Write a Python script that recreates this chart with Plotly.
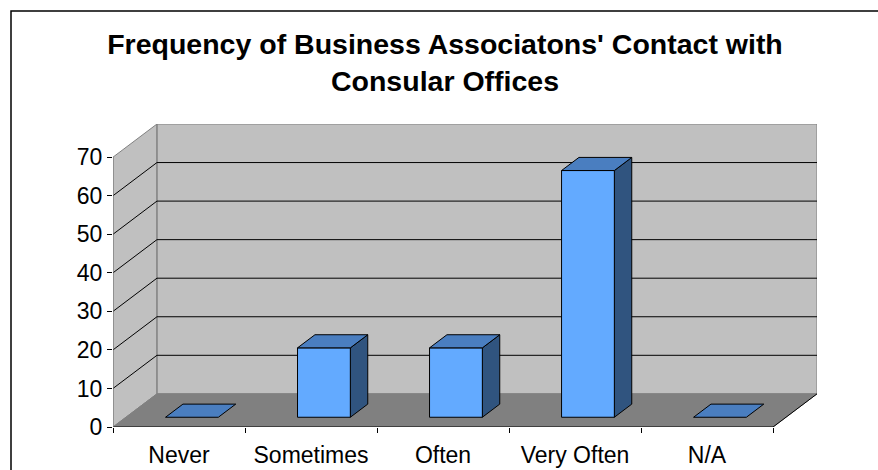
import plotly.graph_objects as go

# ---- data ----
categories = ["Never", "Sometimes", "Often", "Very Often", "N/A"]
values = [0, 18, 18, 64, 0]
y_ticks = [0, 10, 20, 30, 40, 50, 60, 70]
title_text = "Frequency of Business Associatons' Contact with<br>Consular Offices"

# ---- 3D oblique projection parameters (in data units) ----
DX = 0.333   # depth offset along x (category units)
DY = 8.6     # depth offset along y (value units)
YMAX = 70
BAR_HALF = 0.2
Z0, Z1 = 0.294, 0.69   # bar depth position (fraction of floor depth)

x_lo, x_hi = -0.5, len(categories) - 0.5

fig = go.Figure()

def poly_trace(polys, fill, line_color, width=1):
    xs, ys = [], []
    for p in polys:
        for (a, b) in p + [p[0]]:
            xs.append(a); ys.append(b)
        xs.append(None); ys.append(None)
    return go.Scatter(x=xs, y=ys, mode="lines", fill="toself", fillcolor=fill,
                      line=dict(color=line_color, width=width), hoverinfo="skip",
                      showlegend=False)

def line_trace(segs, color, width=1):
    xs, ys = [], []
    for s in segs:
        for (a, b) in s:
            xs.append(a); ys.append(b)
        xs.append(None); ys.append(None)
    return go.Scatter(x=xs, y=ys, mode="lines", line=dict(color=color, width=width),
                      hoverinfo="skip", showlegend=False)

# walls
back_wall = [(x_lo + DX, DY), (x_hi + DX, DY), (x_hi + DX, YMAX + DY), (x_lo + DX, YMAX + DY)]
side_wall = [(x_lo, 0), (x_lo + DX, DY), (x_lo + DX, YMAX + DY), (x_lo, YMAX)]
floor = [(x_lo, 0), (x_hi, 0), (x_hi + DX, DY), (x_lo + DX, DY)]
fig.add_trace(poly_trace([back_wall, side_wall], "#C0C0C0", "#808080"))
fig.add_trace(poly_trace([floor], "#808080", "#808080"))

# gridlines
grid = [[(x_lo, v), (x_lo + DX, v + DY), (x_hi + DX, v + DY)] for v in y_ticks if 0 < v < YMAX]
fig.add_trace(line_trace(grid, "#000000", 1))

# floor front & right edges, front y axis line
fig.add_trace(line_trace([[(x_lo, 0), (x_hi, 0), (x_hi + DX, DY)]], "#000000", 1))
fig.add_trace(line_trace([[(x_lo, 0), (x_lo, YMAX)]], "#808080", 1))

# bars
fronts, tops, sides = [], [], []
for i, v in enumerate(values):
    xl = i - BAR_HALF + Z0 * DX
    xr = i + BAR_HALF + Z0 * DX
    yb = Z0 * DY
    yt = v + Z0 * DY
    ddx = (Z1 - Z0) * DX
    ddy = (Z1 - Z0) * DY
    if v > 0:
        fronts.append([(xl, yb), (xr, yb), (xr, yt), (xl, yt)])
        sides.append([(xr, yb), (xr + ddx, yb + ddy), (xr + ddx, yt + ddy), (xr, yt)])
    tops.append([(xl, yt), (xr, yt), (xr + ddx, yt + ddy), (xl + ddx, yt + ddy)])
fig.add_trace(poly_trace(sides, "#30547F", "#000000"))
fig.add_trace(poly_trace(fronts, "#63AAFF", "#000000"))
fig.add_trace(poly_trace(tops, "#4A7EC0", "#000000"))

FONT = "Liberation Sans, Arial, sans-serif"

W, H = 878, 470
fig.update_layout(
    width=W, height=H, autosize=False,
    margin=dict(l=113, r=61, t=124, b=43, pad=0),
    paper_bgcolor="white", plot_bgcolor="white",
    showlegend=False,
    title=dict(text=title_text, x=445 / W, xanchor="center", xref="container",
               y=1 - 54 / H, yanchor="top", yref="container",
               font=dict(family=FONT, size=28.5, color="black", weight="bold")),
    xaxis=dict(range=[x_lo, x_hi + DX], tickvals=list(range(len(categories))),
               ticktext=categories, ticks="", showgrid=False, zeroline=False,
               showline=False, automargin=False, ticklabelstandoff=12,
               tickfont=dict(family=FONT, size=23, color="black"),
               minor=dict(ticks="outside", tick0=0.5, dtick=1, ticklen=5,
                          tickcolor="black", tickwidth=1, showgrid=False),
               fixedrange=True),
    yaxis=dict(range=[0, YMAX + DY], tickvals=y_ticks, ticks="outside", ticklen=5,
               tickcolor="black", tickwidth=1, showgrid=False, zeroline=False,
               showline=False, automargin=False,
               tickfont=dict(family=FONT, size=23, color="black"), fixedrange=True),
    shapes=[dict(type="rect", xref="paper", yref="paper",
                 x0=(11 - 113) / 704, x1=1.3, y0=-0.5, y1=1 + (124 - 11) / 303,
                 line=dict(color="black", width=1.5), fillcolor="rgba(0,0,0,0)",
                 layer="above")],
)

fig.write_html(
    "out.html",
    config={"displayModeBar": False, "staticPlot": True},
    post_script="document.body.style.margin='0';document.body.style.overflow='hidden';",
)
